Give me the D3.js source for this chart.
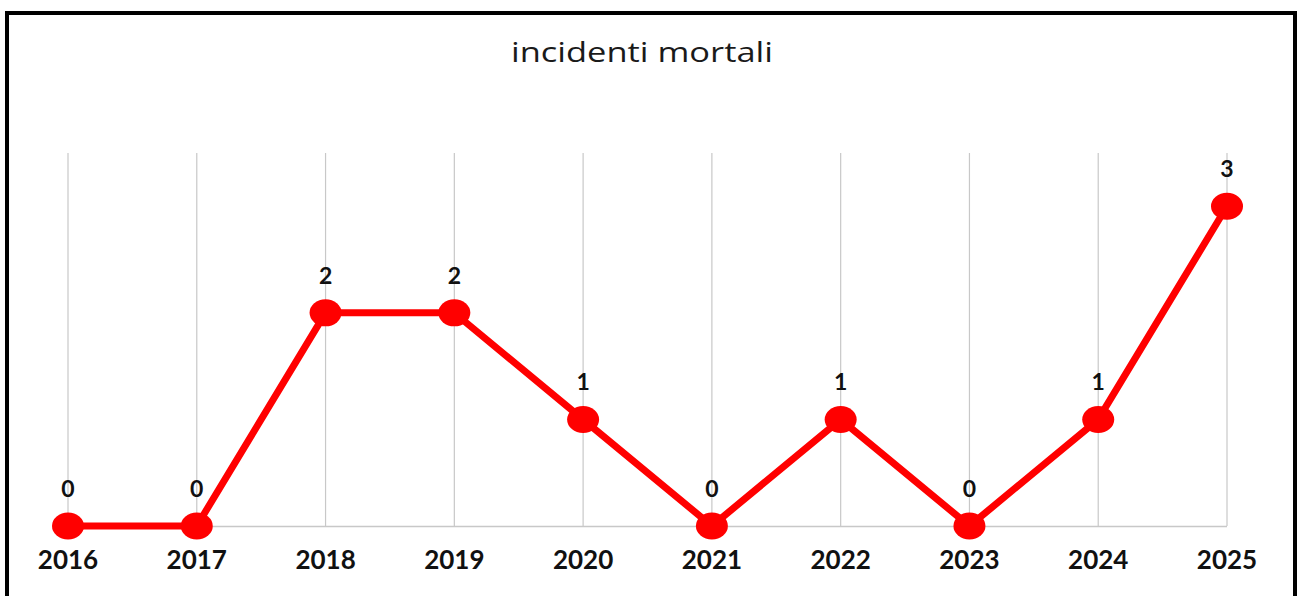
<!DOCTYPE html>
<html lang="it">
<head>
<meta charset="UTF-8">
<title>incidenti mortali</title>
<script src="https://d3js.org/d3.v7.min.js"></script>
<style>
  body { margin: 0; background: #fff; }
  svg { display: block; }
  .title { font-family: "Open Sans", Lato, sans-serif; font-size: 27px; fill: #1a1a1a; text-anchor: middle; }
  .year { font-family: Lato, "Open Sans", sans-serif; font-weight: bold; font-size: 26px; fill: #111; text-anchor: middle; }
  .val { font-family: Lato, "Open Sans", sans-serif; font-weight: bold; font-size: 23px; fill: #111; text-anchor: middle; }
</style>
</head>
<body>
<div id="chart"></div>
<script>
  const years = ["2016", "2017", "2018", "2019", "2020", "2021", "2022", "2023", "2024", "2025"];
  const deaths = [0, 0, 2, 2, 1, 0, 1, 0, 1, 3];
  const chartTitle = "incidenti mortali";

  const width = 1302, height = 596;
  const data = years.map((y, i) => ({ year: y, value: deaths[i] }));

  const svg = d3.select("#chart").append("svg")
    .attr("width", width)
    .attr("height", height);

  // outer frame (bottom edge is cut off in the picture)
  svg.append("path")
    .attr("d", "M7,600 V13 H1295 V600")
    .attr("fill", "none")
    .attr("stroke", "#000")
    .attr("stroke-width", 4);

  svg.append("text")
    .attr("class", "title")
    .attr("x", 642)
    .attr("y", 62)
    .attr("textLength", 262)
    .attr("lengthAdjust", "spacingAndGlyphs")
    .text(chartTitle);

  const x = d3.scalePoint().domain(years).range([68, 1227]);
  const y = d3.scaleLinear().domain([0, 3.5]).range([526, 153]);

  // vertical gridlines
  svg.append("g")
    .selectAll("line")
    .data(years)
    .enter().append("line")
    .attr("x1", d => x(d)).attr("x2", d => x(d))
    .attr("y1", y(3.5)).attr("y2", y(0))
    .attr("stroke", "#c8c8c8")
    .attr("stroke-width", 1.2);

  // baseline
  svg.append("line")
    .attr("x1", x(years[0])).attr("x2", x(years[years.length - 1]))
    .attr("y1", y(0) + 0.5).attr("y2", y(0) + 0.5)
    .attr("stroke", "#c8c8c8")
    .attr("stroke-width", 1.5);

  const line = d3.line()
    .x(d => x(d.year))
    .y(d => y(d.value));

  svg.append("path")
    .datum(data)
    .attr("d", line)
    .attr("fill", "none")
    .attr("stroke", "#ff0000")
    .attr("stroke-width", 7)
    .attr("stroke-linejoin", "round");

  svg.append("g")
    .selectAll("ellipse")
    .data(data)
    .enter().append("ellipse")
    .attr("cx", d => x(d.year))
    .attr("cy", d => y(d.value))
    .attr("rx", 16)
    .attr("ry", 13.5)
    .attr("fill", "#ff0000");

  // value labels
  svg.append("g")
    .selectAll("text")
    .data(data)
    .enter().append("text")
    .attr("class", "val")
    .attr("x", d => x(d.year))
    .attr("y", d => y(d.value) - 29)
    .text(d => d.value);

  // category labels
  svg.append("g")
    .selectAll("text")
    .data(years)
    .enter().append("text")
    .attr("class", "year")
    .attr("x", d => x(d))
    .attr("y", 569)
    .text(d => d);
</script>
</body>
</html>
